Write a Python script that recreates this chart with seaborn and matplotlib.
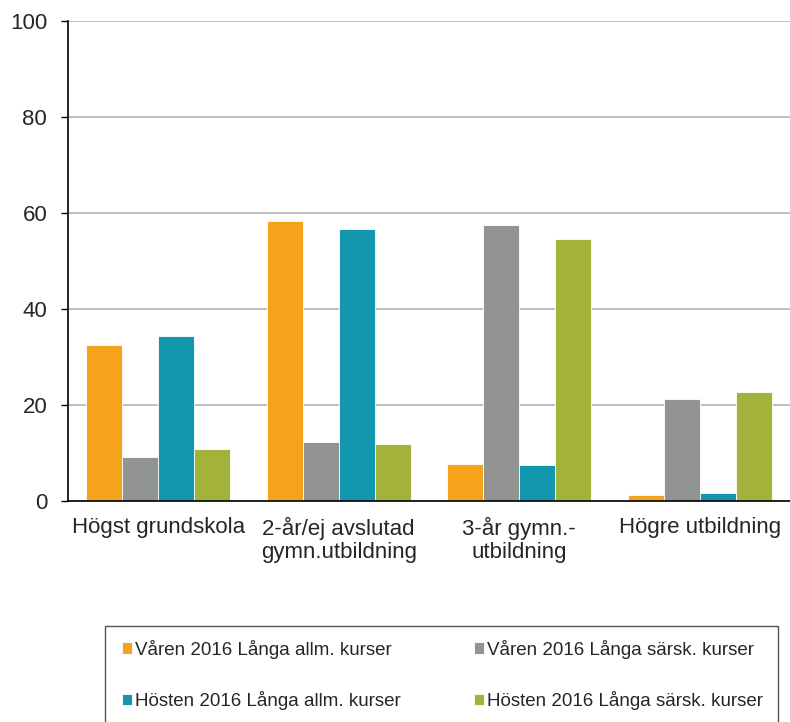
import numpy as np
import pandas as pd
import matplotlib
matplotlib.use('Agg')
import matplotlib.pyplot as plt
from matplotlib.patches import Rectangle
import seaborn as sns

# 데이터
categories = ['Högst grundskola', '2-år/ej avslutad\ngymn.utbildning',
              '3-år gymn.-\nutbildning', 'Högre utbildning']
series = ['Våren 2016 Långa allm. kurser', 'Våren 2016 Långa särsk. kurser',
          'Hösten 2016 Långa allm. kurser', 'Hösten 2016 Långa särsk. kurser']
varen_allm = [32.4, 58.3, 7.8, 1.2]
varen_sarsk = [9.2, 12.2, 57.4, 21.2]
hosten_allm = [34.4, 56.6, 7.4, 1.6]
hosten_sarsk = [10.8, 11.8, 54.6, 22.8]
colors = ['#F4A31A', '#929393', '#1297AE', '#A3B23A']

rows = []
for s, vals in zip(series, [varen_allm, varen_sarsk, hosten_allm, hosten_sarsk]):
    for c, v in zip(categories, vals):
        rows.append({'kategori': c, 'serie': s, 'varde': v})
df = pd.DataFrame(rows)

sns.set_style('white')
plt.rcParams['font.family'] = ['Liberation Sans', 'DejaVu Sans']

fig = plt.figure(figsize=(7.9, 7.22), dpi=100)
ax = fig.add_axes([68 / 790, 1 - 501 / 722, 722 / 790, 480 / 722])

sns.barplot(data=df, x='kategori', y='varde', hue='serie', palette=colors,
            order=categories, hue_order=series, width=0.8, saturation=1,
            edgecolor='white', linewidth=0.6, ax=ax, legend=True)

ax.set_ylim(0, 100)
ax.set_yticks([0, 20, 40, 60, 80, 100])
ax.set_xlim(-0.5, 3.5)
ax.yaxis.grid(True, color='#b5b5b5', linewidth=1.2)
ax.set_axisbelow(True)
ax.set_xlabel('')
ax.set_ylabel('')
for side in ['top', 'right']:
    ax.spines[side].set_visible(False)
for side in ['left', 'bottom']:
    ax.spines[side].set_color('black')
    ax.spines[side].set_linewidth(1.2)
ax.tick_params(axis='y', which='both', left=True, length=5, width=1, color='black',
               labelsize=16, pad=10)
ax.tick_params(axis='x', bottom=False, labelsize=16, pad=8)
for lbl in ax.get_xticklabels():
    lbl.set_linespacing(1.15)

# 범례 (행 순서로)
handles, labels = ax.get_legend_handles_labels()
ax.get_legend().remove()
order = [0, 2, 1, 3]
fig.patches.append(Rectangle((105 / 790, -0.05), 673 / 790, 0.05 + 96 / 722,
                             transform=fig.transFigure, fill=False,
                             edgecolor='#555555', linewidth=1.0))
leg = fig.legend([handles[i] for i in order], [labels[i] for i in order],
                 ncol=2, loc='upper left',
                 bbox_to_anchor=(116 / 790, 1 - 634 / 722),
                 fontsize=13.5, frameon=False,
                 handlelength=0.55, handleheight=0.55, handletextpad=0.15,
                 labelspacing=1.75, borderpad=0.3, columnspacing=3.9,
                 borderaxespad=0)

fig.savefig('out.png', dpi=100)
